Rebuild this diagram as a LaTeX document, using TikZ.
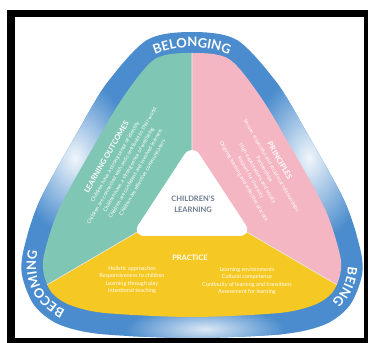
\documentclass[tikz,border=0pt]{standalone}
\usepackage{fontspec}
\setmainfont{Lato}
\usepackage{tikz}
\usetikzlibrary{decorations.text}

\definecolor{ringblue}{HTML}{4A8CCD}
\definecolor{lomint}{HTML}{80C6B4}
\definecolor{prpink}{HTML}{F4B6C2}
\definecolor{pcyellow}{HTML}{F6C823}
\definecolor{clgray}{HTML}{6B7A8F}

\newcommand{\ringfont}{\fontsize{13}{13}\selectfont\bfseries}
\newcommand{\headfont}{\fontsize{7.5}{9}\selectfont\bfseries}

\tikzset{
  listtext/.style={white, align=center, inner sep=0, font=\fontsize{5.5}{7.3}\selectfont},
  slanttext/.style={listtext, font=\fontsize{5.3}{7.9}\selectfont},
  headtext/.style={white, inner sep=0, font=\headfont},
  ringword/.style={decorate, decoration={text along path, text align=center, text color=white, text={|\ringfont|#1}}}
}

\begin{document}
\begin{tikzpicture}[x=1pt,y=1pt]
      \clip (0,0) rectangle (368,343);
      \begin{scope}
        \clip plot[smooth cycle] coordinates {(192,311) (237,303) (277,260) (307,210) (344,143) (360,95) (362,68) (350,38) (326,19) (284,9) (192,5) (100,9) (58,19) (34,38) (22,68) (24,95) (40,143) (77,210) (107,260) (147,303)};
        \fill[ringblue] (0,0) rectangle (368,343);
        \shade[inner color=white!92!ringblue, outer color=ringblue, rotate around={60:(75,185)}] (75,185) ellipse (90 and 28);
        \shade[inner color=white!92!ringblue, outer color=ringblue, rotate around={-60:(309,185)}] (309,185) ellipse (90 and 28);
        \shade[inner color=white!80!ringblue, outer color=ringblue] (205,14) ellipse (80 and 22);
      \end{scope}
      \begin{scope}
        \clip plot[smooth cycle] coordinates {(192,290) (229,284) (260,247) (289,199) (325,134) (340,88) (340,68) (332,50) (314,38) (279,30) (192,26) (105,30) (70,38) (52,50) (44,68) (44,88) (59,134) (95,199) (124,247) (155,284)};
        \coordinate (hub) at (192,143);
        \coordinate (topend) at (192,353);
        \coordinate (leftend) at (-13,23);
        \coordinate (rightend) at (397,23);
        \fill[lomint] (hub) -- (topend) -- (-13,353) -- (leftend) -- cycle;
        \fill[prpink] (hub) -- (topend) -- (397,353) -- (rightend) -- cycle;
        \fill[pcyellow] (hub) -- (leftend) -- (-13,-17) -- (397,-17) -- (rightend) -- cycle;
        \draw[white!85!gray, line width=0.6] (hub) -- (topend) (hub) -- (leftend) (hub) -- (rightend);
      \end{scope}
      \fill[white, rounded corners=14] (192,200) -- (131,107) -- (253,107) -- cycle;
      \node[clgray, align=center, font=\fontsize{7.5}{11.5}\selectfont\bfseries] (centre) at (193,139) {CHILDREN’S\\LEARNING};
      \path[ringword=BELONGING] ([shift={(192,200)}]160:96) arc[start angle=160, end angle=20, radius=96];
      \path[ringword=BECOMING] ([shift={(85,78)}]275:49) arc[start angle=275, end angle=135, radius=49];
      \path[ringword=BEING] ([shift={(299,78)}]45:49) arc[start angle=45, end angle=-95, radius=49];
      \node[slanttext, rotate=60] (outcomes) at (124,176) {{\headfont LEARNING OUTCOMES}\\[1pt]
        Children have a strong sense of identity\\
        Children are connected with and contribute to their world\\
        Children have a strong sense of wellbeing\\
        Children are confident and involved learners\\
        Children are effective communicators};
      \node[slanttext, rotate=-60] (principles) at (262,172) {{\headfont PRINCIPLES}\\[1pt]
        Secure, respectful and reciprocal relationships\\
        Partnerships\\
        High expectations and equity\\
        Respect for diversity\\
        Ongoing learning and reflective practice};
      \node[headtext] (practice) at (190,85) {PRACTICE};
      \node[listtext] (practiceleft) at (132,63) {Holistic approaches\\Responsiveness to children\\Learning through play\\Intentional teaching};
      \node[listtext] (practiceright) at (247,62) {Learning environments\\Cultural competence\\Continuity of learning and transitions\\Assessment for learning};
      \draw[line width=7.5] (11,329.5) rectangle (367.75,1.25);
\end{tikzpicture}
\end{document}
